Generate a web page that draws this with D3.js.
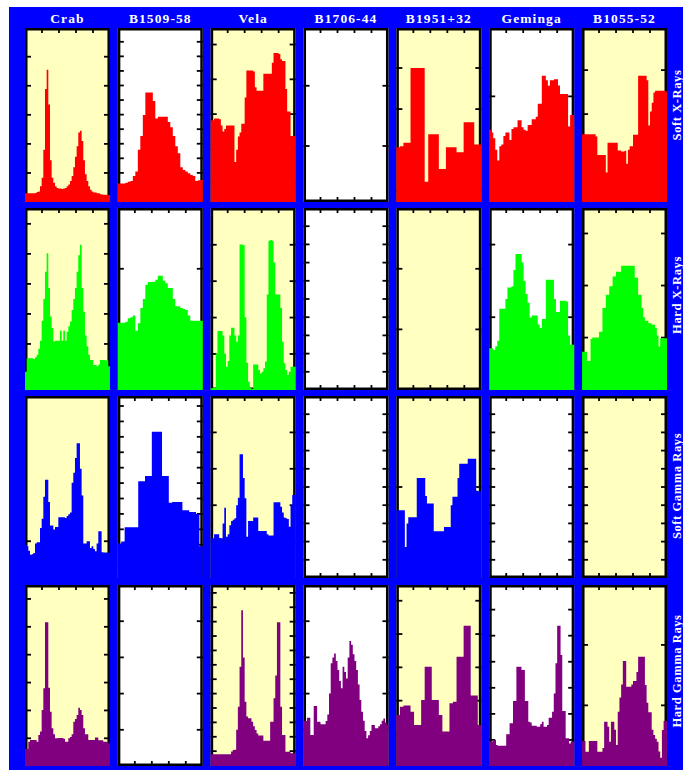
<!DOCTYPE html>
<html>
<head>
<meta charset="utf-8">
<script src="https://cdn.jsdelivr.net/npm/d3@7/dist/d3.min.js"></script>
<style>
  body { margin: 0; background: #fff; }
</style>
</head>
<body>
<script>
// pulsar light curves, 7 pulsars x 4 energy bands
var pulsars = ["Crab", "B1509-58", "Vela", "B1706-44", "B1951+32", "Geminga", "B1055-52"];
var bands = ["Soft X-Rays", "Hard X-Rays", "Soft Gamma Rays", "Hard Gamma Rays"];

// counts per phase bin, in % of the panel height
// soft x-rays
var crabSoftX = [5,5,5,5,5,5,5.2,5.8,6,9,14,30,65,76,56,24,14,11,9,8,7.7,7.7,7.5,7.7,8,9,10,12,15,20,26,32,40,41,35,24,16,12,9,7,6,5.5,5.4,5,5,4.5,4.3,4.2,4.2,4,4];
var b1509SoftX = [10.7,10.7,10.7,11,11.7,12,15,17.5,30,38,50,63,63,63,58,48,49,49,49,49,46,43,38,32,28,20,18.4,17.5,16.5,15.5,15,12,12.5,12.7];
var velaSoftX = [47,47,48,48,48,47.5,44,40.5,42,44,44,44,44,44,23,30,37.6,40,45,45,60,75.6,75.6,75.6,75.6,75,66,64,64,64,64,73.7,73.7,73.7,73.7,73.7,80,85.6,85.6,85.6,85,82,81,81,65,52,52,38,38,38];
var b1951SoftX = [31.5,32,34,34,77,77,77,77,11.7,39,39,39,19,19,31.5,31.5,31.5,28.6,28.6,45.9,45.9,45.9,33,33];
var gemingaSoftX = [41.5,40,36.7,30,23.8,32,33,38,40,40,35.7,42,43,43,47,47,43,41.5,40.9,44.3,44.3,47.6,47.6,49,56.4,56.4,72.6,72.6,70,66.8,69.9,70,70.6,70.6,67,62,62,62,62,43.4,50,50];
var b1055SoftX = [39,39,39,39,39,39,39,39,37.6,27,27,27,27,27,17,34,34,34,34,34,34,29.6,29.6,29,29,29.5,22,30,32,32,38.6,38.6,38.6,72.6,72.6,72.6,72.6,72.6,70,44,52,57,62.9,64,64,64,64,64,64,63.5];

// hard x-rays
var crabHardX = [10,17.4,17.4,17.4,17.4,17,18,19.3,22.6,27,38,50,65,75.2,56,40.4,34,26.6,27,27,27,32.5,27,32.5,27,32,35,37.6,44,50,56,65,74,79.8,56,43,30,24,19.3,16.5,16.5,13.8,13.8,13,14,16.5,16.5,16.5,16.3,16.3,13];
var b1509HardX = [37,37,37,37.5,39.4,40,41,32.5,36.7,45,50,57.8,59.3,59.3,59.5,60.6,62.8,62.8,60,58.7,56,56,50,46,46,45,44.5,44,41,38,38,38,38,38];
var velaHardX = [1,1.3,1.3,20,32.4,32.4,32.4,30,20,12.8,16,30,34.2,34.2,30,26.5,30,80,80,79.6,40,15,4.6,1.3,0.5,14,14,14,11,9,10,12,15.6,52.5,82,82.4,82,70,52.5,52.5,52.5,45,26.5,14.7,11,8.3,10,12.8,12.8,12.8];
var gemingaHardX = [23,23,22,24,27,44.6,44.6,44.6,50,56.3,56.3,57,66,74.7,74.7,74.7,70,60,52.7,48,39.8,41,41,41,36,34,39,39,60.6,60.6,60.6,60.6,50,42.8,42.8,49,49,49,48.6,30,24.8,24.8];
var b1055HardX = [21,21,21,16,16,28,28.8,28.8,28.8,28.8,32,32,45,45,52.3,52.3,57,57,62.4,62.4,65,65,65,68.3,68.3,68.3,68.3,68.3,68.3,68.3,68.3,61.7,61.7,52.3,52.3,45,40,38,38,36.7,36.7,35.8,35.8,34,30,23.9,28.4,28.4,28.4,28.4];

// soft gamma rays
var crabSoftG = [18.3,17.4,15,12.8,13,13.8,18.9,19.6,19.6,27.5,32.5,44.6,54,54,41.7,28.8,28.8,26.6,28,28,33.4,33.4,33.4,33.4,33,34,35,36,52.3,57.8,66,74,74,60,45.3,18.9,19,20.2,20.2,16.5,17.4,16,14.7,18.9,25.7,25.7,14.1,14,14,14,13.8];
var b1509SoftG = [18.9,20,27.9,27.9,27.9,27.9,53.2,53.2,56,56,80.4,80.4,80.4,56,56,41.3,41.8,41.8,41.8,37.2,37.2,36.3,36.3,35.2,17.4];
var velaSoftG = [21.8,21.8,24,24,24,22,21.8,30,38.6,22.7,24,29,31.3,32,32.8,40,44.1,68,68,55,43.8,22.7,31.3,31.3,31.3,33.2,33.2,33.2,25.8,25.8,25.8,25.8,25.8,24,23.3,23.3,23.3,41.6,41.6,41.6,41.6,39.2,36,33.2,32.8,32.4,28.2,40,45.6,45.6];
var b1951SoftG = [37.2,37.2,37.2,37.2,37.2,17,30,33.4,33.4,33.4,33.4,33.4,55,55,55,55,55,45,40.9,40.9,40.9,40.9,25.7,25.7,25.7,25.7,25.7,25.7,28,28,28,28,40,44.6,44.6,44.6,55,62.8,62.8,62.8,62.8,62.8,65.5,65.5,65.5,65.5,65.5,48,47.7,47.7];

// hard gamma rays
var crabHardG = [9.4,9.4,13.4,14.4,14.4,14.4,14.4,13.4,17.1,19,30.9,42.9,79.4,79.4,43.3,30,20.8,17.5,15.3,15.3,15.5,15.5,15.5,15,13.4,13.4,15.3,16,17.5,24.5,26,28.2,32.2,31,28.2,20.8,17.5,17.5,14.4,14.4,14.4,14.4,15.7,15.7,14.2,14.2,14.2,13.4,13.4,13.4,12.5];
var velaHardG = [6.5,6.5,6.5,6.5,6.5,6.5,6.5,6.5,6.5,6.5,6.5,6.5,8,8.8,9,20,32.8,54.9,86,60,35.5,27.3,26.4,26.4,24.5,22,19.9,18,16.8,16.8,16.8,14,14,14,14,24.5,24.5,37.4,50,79.4,79.4,32.8,17.1,17.1,7.9,7.9,7.9,7,7,7];
var b1706HardG = [24.9,24.9,26.7,26.7,17.1,17.1,33.1,33.1,24.5,24.5,23,23,23,24.9,28.5,40,56.7,60,62.2,58,53,47,42.9,54.9,52,48.4,60,69,67,61.7,58,53,45,36.5,30,25,19.3,15.3,17,19.3,22.7,22.7,20.8,20.8,22,23,25,26.3,24,22.7];
var b1951HardG = [28.2,32.8,33.4,33.4,30,22.7,22.7,36.5,54.9,54.9,36.5,36.5,28.2,19,19,34.6,35.5,60.4,60.4,77.5,77.5,38.9,38.9,22.7];
var gemingaHardG = [13.4,13.4,14.4,14.4,11.6,11.2,11.2,11.2,11.2,11.2,17.5,17.5,23.6,23.6,35.9,35.9,54.9,54.9,54.9,53,53,35.9,35.9,24.5,24,22.3,22.3,22.3,21.7,21.7,23,24.5,21.7,21.7,22.7,26.7,26.7,30,40,56.7,77.5,77.5,61.3,30.4,30.4,15.3,15.3,12.5,13.4,13.4];
var b1055HardG = [13.8,13.8,7.9,7.9,13.8,13.8,13.8,13.8,13.8,7.9,7.9,7.9,10,24.5,24.5,21.7,13.4,24.5,24.5,20,11.6,30,37.8,45,58,58,43.8,43.8,43.8,45,47,47,52,60.4,60.4,60.4,60.4,44.8,35,29.7,29.7,20,17.1,15,13.4,8,4.6,19.9,24.9,24.9];

// rows = bands, columns = pulsars (null = no detection)
var profiles = [
    [crabSoftX, b1509SoftX, velaSoftX, null, b1951SoftX, gemingaSoftX, b1055SoftX],
    [crabHardX, b1509HardX, velaHardX, null, null, gemingaHardX, b1055HardX],
    [crabSoftG, b1509SoftG, velaSoftG, null, b1951SoftG, null, null],
    [crabHardG, null, velaHardG, b1706HardG, b1951HardG, gemingaHardG, b1055HardG]
];

// y tick start / step for every panel (same % units)
var yTickStart = [
    [16.7, 8.37, 10.5, 32.2, 6.2, 60.7, 25.2],
    [8.8, 33.3, 19.8, 10, 33.3, 40, 28.8],
    [20.2, 9.8, 20, 10, 50, 10, 10],
    [15.3, 20, 8.2, 20, 17.7, 14.4, 33.5]
];
var yTickStep = [
    [16.7, 8.37, 20, 34.6, 23.6, 100, 25.3],
    [16.5, 33.3, 20, 10, 33.3, 39.9, 28.6],
    [100, 8.47, 20, 10, 50, 10, 10],
    [15.4, 20, 7.95, 20, 18.4, 14.4, 33.4]
];
var phaseTicks = [0.2, 0.4, 0.6, 0.8];

var bandColors = ["#ff0000", "#00ff00", "#0000ff", "#800080"];
//

var width = 683, height = 770;
var rowTop = [28, 208, 396, 585],
    rowBottom = [202, 390, 578, 766],
    labelY = [105, 295, 486, 671];

var svg = d3.select("body").append("svg")
    .attr("width", width)
    .attr("height", height);

svg.append("rect")
    .attr("x", 9).attr("y", 7)
    .attr("width", width - 9).attr("height", height - 7)
    .style("fill", "#0000ff");

var col = d3.scaleBand()
    .domain(pulsars)
    .range([25, 667])
    .paddingInner(0.085);

var serif = "'Liberation Serif', 'Times New Roman', serif";

// column titles
svg.selectAll(".title")
    .data(pulsars)
    .enter().append("text")
    .attr("x", d => col(d) + col.bandwidth() / 2)
    .attr("y", 23)
    .attr("text-anchor", "middle")
    .style("font-family", serif)
    .style("font-weight", "bold")
    .style("font-size", "13.5px")
    .style("letter-spacing", "1.1px")
    .style("fill", "#ffffff")
    .text(d => d);

// band labels on the right
bands.forEach(function (b, r) {
    svg.append("text")
        .attr("transform", "translate(681," + labelY[r] + ") rotate(-90)")
        .attr("text-anchor", "middle")
        .style("font-family", serif)
        .style("font-weight", "bold")
        .style("font-size", "12.5px")
        .style("letter-spacing", "0.6px")
        .style("fill", "#ffffff")
        .text(b);
});

var noTopTicks = { "0-1": true, "2-0": true };

bands.forEach(function (b, r) {
    pulsars.forEach(function (p, c) {
        var x = d3.scaleLinear().domain([0, 1]).range([col(p), col(p) + col.bandwidth()]);
        var y = d3.scaleLinear().domain([0, 100]).range([rowBottom[r], rowTop[r]]);
        var g = svg.append("g");
        var x0 = x(0), x1 = x(1), yb = y(0), yt = y(100);

        g.append("rect")
            .attr("x", x0).attr("y", yt)
            .attr("width", x1 - x0).attr("height", yb - yt)
            .style("fill", c % 2 == 0 ? "#ffffc0" : "#ffffff");

        // ticks
        var yt_vals = d3.range(yTickStart[r][c], 97, yTickStep[r][c]);
        yt_vals.forEach(function (v) {
            g.append("line").attr("x1", x0).attr("x2", x0 + 6)
                .attr("y1", y(v)).attr("y2", y(v));
            g.append("line").attr("x1", x1 - 6).attr("x2", x1)
                .attr("y1", y(v)).attr("y2", y(v));
        });
        phaseTicks.forEach(function (t) {
            if (!noTopTicks[r + "-" + c]) {
                g.append("line").attr("x1", x(t)).attr("x2", x(t))
                    .attr("y1", yt).attr("y2", yt + 5);
            }
            g.append("line").attr("x1", x(t)).attr("x2", x(t))
                .attr("y1", yb - 5).attr("y2", yb);
        });
        g.selectAll("line")
            .style("stroke", "black")
            .style("stroke-width", 1.8);

        // frame
        g.append("rect")
            .attr("x", x0 + 1.25).attr("y", yt + 1.25)
            .attr("width", x1 - x0 - 2.5).attr("height", yb - yt - 2.5)
            .style("fill", "none")
            .style("stroke", "black")
            .style("stroke-width", 2.5);

        // light curve
        var vals = profiles[r][c];
        if (vals) {
            var n = vals.length;
            var pts = vals.map((v, i) => [i / n, v]);
            pts.push([1, vals[n - 1]]);
            var area = d3.area()
                .curve(d3.curveStepAfter)
                .x(d => x(d[0]))
                .y0(yb)
                .y1(d => y(d[1]));
            g.append("path")
                .datum(pts)
                .attr("d", area)
                .style("fill", bandColors[r]);
        }
    });
});
</script>
</body>
</html>
